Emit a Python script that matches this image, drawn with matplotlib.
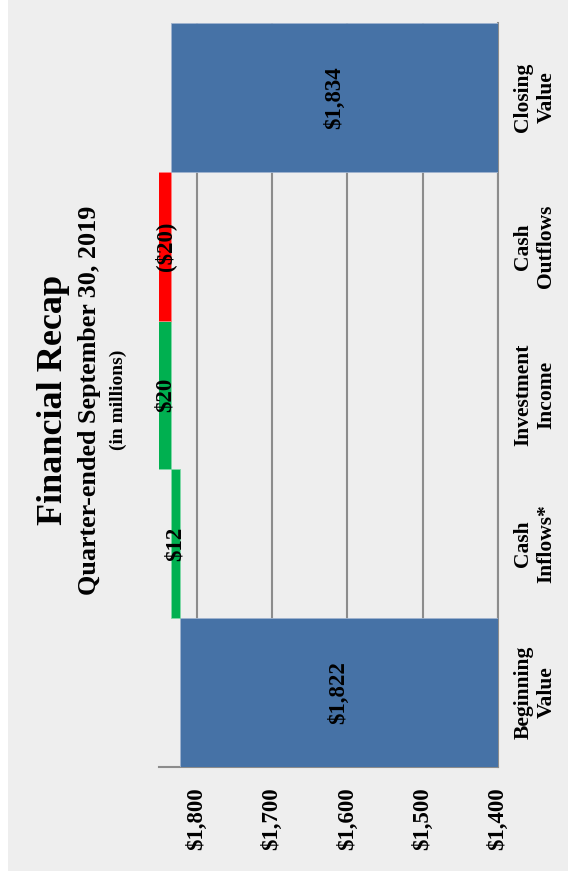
import matplotlib
matplotlib.use('Agg')
import matplotlib.pyplot as plt
from matplotlib.patches import Rectangle

# datos del gráfico (en millones)
categorias = ['Beginning\nValue', 'Cash\nInflows*', 'Investment\nIncome', 'Cash\nOutflows', 'Closing\nValue']
inicio = 1822
cambios = [12, 20, -20]
cierre = 1834
etiquetas = ['$1,822', '$12', '$20', '($20)', '$1,834']
ticks_valor = [1400, 1500, 1600, 1700, 1800]
ticks_texto = ['$1,400', '$1,500', '$1,600', '$1,700', '$1,800']
eje_min, eje_max = 1400, 1850

azul = '#4672a6'
verde = '#00b050'
rojo = '#ff0000'
gris = '#8c8c8c'
fondo = '#eeeeee'
fuente = 'Liberation Serif'

W, H = 568, 881
fig = plt.figure(figsize=(W / 100, H / 100), dpi=100)
fig.patch.set_facecolor('white')
fig.patches.append(Rectangle((8 / W, 1 - 871 / H), 1, 871 / H, transform=fig.transFigure,
                             facecolor=fondo, edgecolor='none', zorder=-10))

# el gráfico está girado: valores en el eje x (invertido), categorías en el eje y
ax = fig.add_axes([159 / W, 1 - 767 / H, (498 - 159) / W, (767 - 23) / H])
ax.set_facecolor(fondo)

# segmentos de la cascada
bases = [eje_min]
largos = [inicio - eje_min]
colores = [azul]
acum = inicio
for c in cambios:
    bases.append(acum)
    largos.append(c)
    colores.append(verde if c > 0 else rojo)
    acum += c
bases.append(eje_min)
largos.append(cierre - eje_min)
colores.append(azul)

pos = list(range(len(categorias)))
ax.barh(pos, largos, left=bases, height=1.0, color=colores,
        edgecolor=['#9fb3cf', '#7fd8a7', '#7fd8a7', '#ff8080', '#9fb3cf'],
        linewidth=0.6, zorder=3)

ax.set_xlim(eje_max, eje_min)
ax.set_ylim(-0.5, len(categorias) - 0.5)

# etiquetas de cada barra, al centro de la parte visible
for i in pos:
    a, b = sorted([bases[i], bases[i] + largos[i]])
    a, b = max(a, eje_min), min(b, eje_max)
    ax.text((a + b) / 2, i, etiquetas[i], rotation=90, ha='center', va='center',
            fontsize=16.5, fontweight='bold', family=fuente, zorder=5)

# cuadrícula y ejes
ax.set_xticks(ticks_valor)
ax.set_xticklabels(ticks_texto, rotation=90, fontsize=16.5, fontweight='bold', family=fuente,
                   va='top', ha='center')
ax.tick_params(axis='x', length=0, pad=15)
ax.grid(axis='x', color=gris, linewidth=1.5, zorder=0)
ax.set_axisbelow(True)

ax.set_yticks(pos)
ax.set_yticklabels(categorias, rotation=90, fontsize=15.5, fontweight='bold', family=fuente,
                   ha='left', va='center', multialignment='center', linespacing=1.2)
ax.yaxis.tick_right()
ax.tick_params(axis='y', length=0, pad=11)

for lado in ['top', 'left']:
    ax.spines[lado].set_visible(False)
for lado in ['bottom', 'right']:
    ax.spines[lado].set_color(gris)
    ax.spines[lado].set_linewidth(1.5)

# títulos (girados)
yc = 1 - 400 / H
fig.text(53 / W, yc, 'Financial Recap', rotation=90, ha='center', va='center',
         fontsize=26, fontweight='bold', family=fuente)
fig.text(90 / W, yc, 'Quarter-ended September 30, 2019', rotation=90, ha='center', va='center',
         fontsize=18.8, fontweight='bold', family=fuente)
fig.text(118 / W, yc, '(in millions)', rotation=90, ha='center', va='center',
         fontsize=14, fontweight='bold', family=fuente)

fig.savefig('out.png', dpi=100)
